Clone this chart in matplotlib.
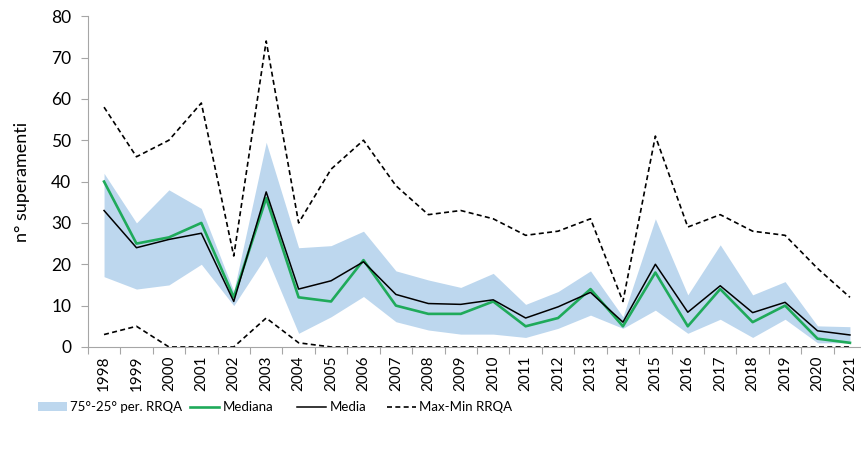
import matplotlib.pyplot as plt
import numpy as np

# dati
anni = [str(a) for a in range(1998, 2022)]
max_rrqa = [58, 46, 50, 59, 22, 74, 30, 43, 50, 39, 32, 33, 31, 27, 28, 31, 11, 51, 29, 32, 28, 27, 19, 12]
min_rrqa = [3, 5, 0, 0, 0, 7, 1, 0, 0, 0, 0, 0, 0, 0, 0, 0, 0, 0, 0, 0, 0, 0, 0, 0]
p75 = [42, 30, 38, 33.5, 13.5, 49.5, 24, 24.5, 28, 18.4, 16.2, 14.4, 17.8, 10.3, 13.4, 18.4, 7.3, 31, 12.6, 24.7, 12.6, 15.8, 5.1, 4.9]
p25 = [17, 14, 15, 20, 10, 22, 3.3, 7.3, 12.2, 6.1, 4.1, 3.1, 3.1, 2.3, 4.5, 7.7, 4.5, 8.9, 3.3, 6.7, 2.3, 6.7, 1, 1]
mediana = [40, 25, 26.5, 30, 12, 36, 12, 11, 21, 10, 8, 8, 11, 5, 7, 14, 5, 18, 5, 14, 6, 10, 2, 1]
media = [33, 24, 26, 27.5, 11, 37.5, 14, 16, 20.6, 12.7, 10.5, 10.3, 11.4, 7, 9.7, 13.2, 6, 20, 8.4, 14.8, 8.3, 10.8, 3.9, 2.9]

plt.rcParams['font.family'] = ['Lato', 'DejaVu Sans']

fig = plt.figure(figsize=(8.61, 4.5), dpi=100)
ax = fig.add_axes([0.102, 0.229, 0.904, 0.735])

x = np.arange(len(anni))
ax.fill_between(x, p25, p75, color='#bdd7ee', linewidth=0, label='75°-25° per. RRQA')
ax.plot(x, mediana, color='#1faa5a', lw=1.9, label='Mediana')
ax.plot(x, media, color='black', lw=1.1, label='Media')
ax.plot(x, max_rrqa, color='black', lw=1.2, ls=(0, (3, 2)), label='Max-Min RRQA')
ax.plot(x, min_rrqa, color='black', lw=1.2, ls=(0, (3, 2)))

ax.set_xlim(-0.5, len(anni) - 0.5)
ax.set_ylim(0, 80)
ax.set_yticks(range(0, 81, 10))
ax.set_xticks(np.arange(-0.5, len(anni), 1.0))
ax.set_xticklabels([])
ax.set_xticks(x, minor=True)
ax.set_xticklabels(anni, minor=True, rotation=90, fontsize=11)
ax.tick_params(axis='x', which='minor', length=0, pad=6)
ax.tick_params(axis='x', which='major', length=5, color='#a6a6a6')
ax.tick_params(axis='y', length=5, color='#a6a6a6', labelsize=12.5, pad=7)

for s in ['top', 'right']:
    ax.spines[s].set_visible(False)
for s in ['left', 'bottom']:
    ax.spines[s].set_color('#a6a6a6')

ax.set_ylabel('n° superamenti', fontsize=13, labelpad=15)

# legenda: una voce per volta, alle posizioni del riferimento
h, l = ax.get_legend_handles_labels()
for hi, li, xl in zip(h, l, [38, 190, 297, 387]):
    fig.legend([hi], [li], loc='center left', bbox_to_anchor=(xl / 861, 0.095), frameon=False,
               fontsize=9.5, handlelength=2.2, handletextpad=0.25, borderpad=0, borderaxespad=0)

fig.savefig('out.png', dpi=100)
